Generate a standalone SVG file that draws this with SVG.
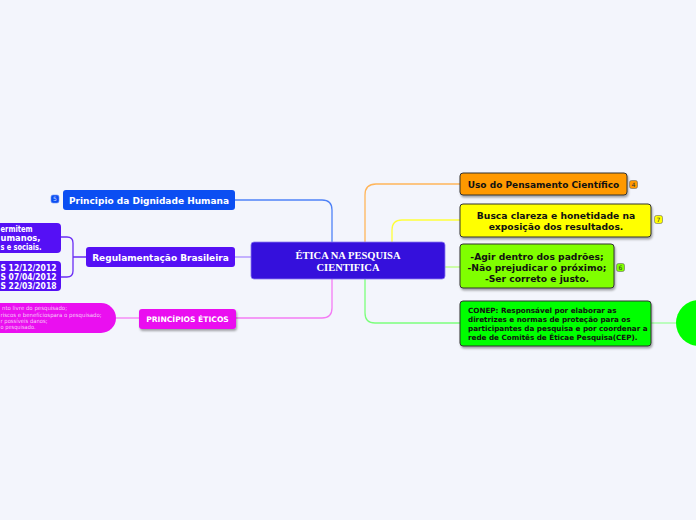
<svg xmlns="http://www.w3.org/2000/svg" width="696" height="520" viewBox="0 0 696 520">
<defs>
<filter id="sh" x="-10%" y="-20%" width="130%" height="160%">
<feDropShadow dx="1" dy="2" stdDeviation="1.2" flood-color="#000" flood-opacity="0.35"/>
</filter>
<style>
.t{font-family:"DejaVu Sans",Verdana,sans-serif;font-weight:bold}
.w{fill:#fff}
.k{fill:#111}
.c{fill:none;stroke-width:1.3}
.bd{stroke:#333;stroke-width:1}
.bg{font-family:"DejaVu Sans",sans-serif;font-size:6px;text-anchor:middle;fill:#333}
.p{font-family:"DejaVu Sans",Verdana,sans-serif;font-size:5.6px;fill:#f7c8f7}
</style>
</defs>
<rect width="696" height="520" fill="#f3f5fc"/>
<g id="connectors">
<path class="c" stroke="#4f82f7" d="M332,242 V210 Q332,200 322,200 H235"/>
<path class="c" stroke="#a98bff" d="M251,257 H235"/>
<path class="c" stroke="#f47cf4" d="M332,279 V308 Q332,318 322,318 H236"/>
<path class="c" stroke="#ffb55a" d="M365,242 V195 Q365,184 376,184 H460"/>
<path class="c" stroke="#ffff3a" d="M392,242 V230 Q392,220 402,220 H460"/>
<path class="c" stroke="#b6ff7a" d="M445,267 H460"/>
<path class="c" stroke="#7cff7c" d="M365,279 V313 Q365,323 375,323 H460"/>
<path class="c" stroke="#9cff9c" d="M651,323 H676"/>
<path class="c" stroke="#6a2cf5" d="M86,257 H73 M61,237 H67 Q73,237 73,243 V271 Q73,277 67,277 H61"/>
<path class="c" stroke="#f47cf4" d="M139,318 H116"/>
</g>
<g id="center">
<rect x="251" y="242" width="194" height="37" rx="3" fill="#3510dc" stroke="#8a7af0" stroke-width="0.8"/>
<text x="348" y="259" font-family="Liberation Serif,serif" font-weight="bold" font-size="10.5" fill="#fff" text-anchor="middle">ÉTICA NA PESQUISA</text>
<text x="348" y="271" font-family="Liberation Serif,serif" font-weight="bold" font-size="10.5" fill="#fff" text-anchor="middle">CIENTIFICA</text>
</g>
<g id="n-dignidade">
<rect x="63" y="190" width="172" height="20" rx="3" fill="#0b4ef2"/>
<text class="t w" x="149" y="203.5" font-size="9" text-anchor="middle">Principio da Dignidade Humana</text>
<rect x="51" y="195" width="8" height="8" rx="2" fill="#0b4ef2" stroke="#6f94f7" stroke-width="0.6"/>
<text class="bg" x="55" y="201.2" style="fill:#cfdcff">5</text>
</g>
<g id="n-regulamentacao">
<rect x="86" y="247" width="149" height="20" rx="3" fill="#5510f5"/>
<text class="t w" x="160.5" y="260.5" font-size="9" text-anchor="middle">Regulamentação Brasileira</text>
</g>
<g id="n-reg-child1">
<rect x="-10" y="223" width="71" height="30" rx="4" fill="#5510f5"/>
<text class="t w" x="0.5" y="232" font-size="8.2" textLength="32" lengthAdjust="spacingAndGlyphs">ermitem</text>
<text class="t w" x="0.5" y="241" font-size="8.2" textLength="40" lengthAdjust="spacingAndGlyphs">umanos,</text>
<text class="t w" x="0.5" y="250" font-size="8.2" textLength="41" lengthAdjust="spacingAndGlyphs">s e sociais.</text>
</g>
<g id="n-reg-child2">
<rect x="-10" y="261" width="71" height="30" rx="4" fill="#5510f5"/>
<text class="t w" x="0.5" y="271" font-size="8.2" textLength="56" lengthAdjust="spacingAndGlyphs">S 12/12/2012</text>
<text class="t w" x="0.5" y="280" font-size="8.2" textLength="56" lengthAdjust="spacingAndGlyphs">S 07/04/2012</text>
<text class="t w" x="0.5" y="288.5" font-size="8.2" textLength="56" lengthAdjust="spacingAndGlyphs">S 22/03/2018</text>
</g>
<g id="n-principios">
<rect x="139" y="309" width="97" height="20" rx="3" fill="#ea0ff0" filter="url(#sh)"/>
<text class="t w" x="187.5" y="321.5" font-size="7.6" text-anchor="middle">PRINCÍPIOS ÉTICOS</text>
</g>
<g id="n-principios-child">
<rect x="-30" y="303" width="146" height="30" rx="15" fill="#ea0ff0"/>
<text class="p" x="2" y="310" textLength="65" lengthAdjust="spacingAndGlyphs">nto livre do pesquisado;</text>
<text class="p" x="0.5" y="316.5" textLength="101" lengthAdjust="spacingAndGlyphs">riscos e benefíciospara o pesquisado;</text>
<text class="p" x="0.5" y="323" textLength="47" lengthAdjust="spacingAndGlyphs">r possíveis danos;</text>
<text class="p" x="0.5" y="329" textLength="35" lengthAdjust="spacingAndGlyphs">o pesquisado.</text>
</g>
<g id="n-uso">
<rect x="460" y="173" width="167" height="22" rx="3" fill="#ff9900" class="bd" filter="url(#sh)"/>
<text class="t k" x="543.5" y="187.5" font-size="9" text-anchor="middle">Uso do Pensamento Científico</text>
<rect x="629.5" y="180.5" width="8" height="8" rx="2" fill="#ff9900" stroke="#666" stroke-width="0.6"/>
<text class="bg" x="633.5" y="186.7">4</text>
</g>
<g id="n-busca">
<rect x="460" y="204" width="191" height="33" rx="3" fill="#ffff00" class="bd" filter="url(#sh)"/>
<text class="t k" x="556" y="219" font-size="9.2" text-anchor="middle">Busca clareza e honetidade na</text>
<text class="t k" x="556" y="230" font-size="9.2" text-anchor="middle">exposição dos resultados.</text>
<rect x="654.5" y="215.5" width="8" height="8" rx="2" fill="#ffff00" stroke="#666" stroke-width="0.6"/>
<text class="bg" x="658.5" y="221.7">7</text>
</g>
<g id="n-agir">
<rect x="460" y="244" width="154" height="44" rx="3" fill="#80ff00" class="bd" filter="url(#sh)"/>
<text class="t k" x="537" y="260" font-size="9.2" text-anchor="middle">-Agir dentro dos padrões;</text>
<text class="t k" x="537" y="271" font-size="9.2" text-anchor="middle">-Não prejudicar o próximo;</text>
<text class="t k" x="537" y="282" font-size="9.2" text-anchor="middle">-Ser correto e justo.</text>
<rect x="616.5" y="263.5" width="8" height="8" rx="2" fill="#80ff00" stroke="#666" stroke-width="0.6"/>
<text class="bg" x="620.5" y="269.7">6</text>
</g>
<g id="n-conep">
<rect x="460" y="301" width="191" height="45" rx="3" fill="#00ff00" class="bd" filter="url(#sh)"/>
<text class="t k" x="468" y="313" font-size="7.2">CONEP: Responsável por elaborar as</text>
<text class="t k" x="468" y="322" font-size="7.2">diretrizes e normas de proteção para os</text>
<text class="t k" x="468" y="331" font-size="7.2">participantes da pesquisa e por coordenar a</text>
<text class="t k" x="468" y="340" font-size="7.2">rede de Comitês de Éticae Pesquisa(CEP).</text>
</g>
<g id="n-circle">
<circle cx="699" cy="323" r="23" fill="#00ff00"/>
</g>
</svg>
